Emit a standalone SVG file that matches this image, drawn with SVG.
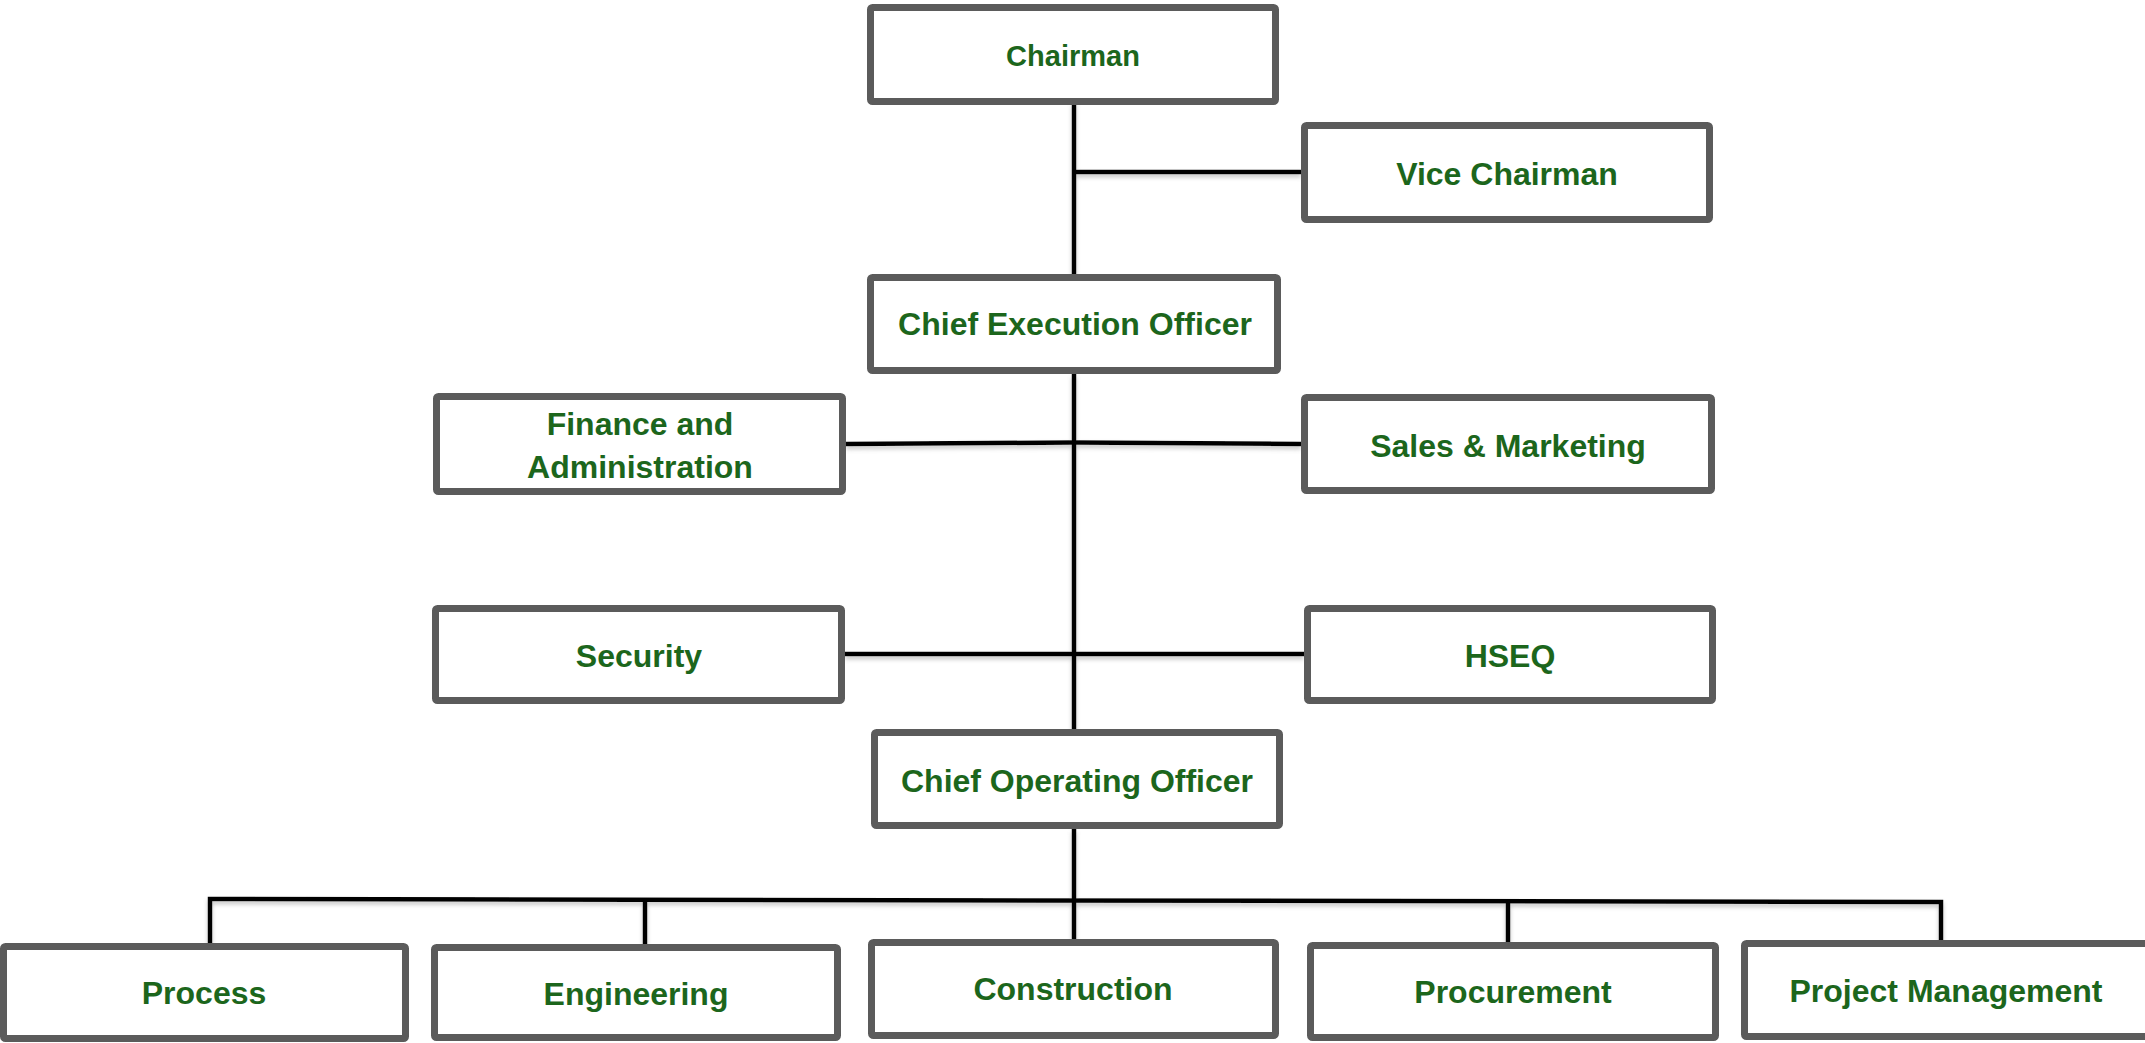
<svg xmlns="http://www.w3.org/2000/svg" width="2145" height="1043" viewBox="0 0 2145 1043">
<style>
.box{fill:#ffffff;stroke:#5b5b5b;stroke-width:7;}
.lbl{font-family:"Liberation Sans",Arial,sans-serif;font-weight:bold;font-size:32px;fill:#1c661c;text-anchor:middle;}
.con{fill:none;stroke:#000000;stroke-width:4.5;stroke-linejoin:miter;}
</style>
<defs>
<filter id="sh" x="-5%" y="-50%" width="110%" height="200%">
<feDropShadow dx="0" dy="3" stdDeviation="2" flood-color="#808080" flood-opacity="0.45"/>
</filter>
</defs>
<rect width="2145" height="1043" fill="#ffffff"/>
<g id="connectors" filter="url(#sh)">
<path class="con" d="M1074,102 V277"/>
<path class="con" d="M1074,172 H1301"/>
<path class="con" d="M1074,374 V729"/>
<path class="con" d="M846,444 L1074,442.5 L1301,444"/>
<path class="con" d="M845,654 H1304"/>
<path class="con" d="M1074,829 V939"/>
<path class="con" d="M210,943 V899 L1941,902 V940"/>
<path class="con" d="M645,944 V901"/>
<path class="con" d="M1508,942 V901"/>
</g>
<g id="chairman"><rect class="box" x="870.5" y="7.5" width="405" height="94" rx="2"/><text class="lbl" x="1073" y="66" style="font-size:29px">Chairman</text></g>
<g id="vice-chairman"><rect class="box" x="1304.5" y="125.5" width="405" height="94" rx="2"/><text class="lbl" x="1507" y="185">Vice Chairman</text></g>
<g id="ceo"><rect class="box" x="870.5" y="277.5" width="407" height="93" rx="2"/><text class="lbl" x="1075" y="335">Chief Execution Officer</text></g>
<g id="finance"><rect class="box" x="436.5" y="396.5" width="406" height="95" rx="2"/><text class="lbl" x="640" y="435">Finance and</text><text class="lbl" x="640" y="478">Administration</text></g>
<g id="sales"><rect class="box" x="1304.5" y="397.5" width="407" height="93" rx="2"/><text class="lbl" x="1508" y="457">Sales &amp; Marketing</text></g>
<g id="security"><rect class="box" x="435.5" y="608.5" width="406" height="92" rx="2"/><text class="lbl" x="639" y="667">Security</text></g>
<g id="hseq"><rect class="box" x="1307.5" y="608.5" width="405" height="92" rx="2"/><text class="lbl" x="1510" y="667">HSEQ</text></g>
<g id="coo"><rect class="box" x="874.5" y="732.5" width="405" height="93" rx="2"/><text class="lbl" x="1077" y="792">Chief Operating Officer</text></g>
<g id="process"><rect class="box" x="3.5" y="946.5" width="402" height="92" rx="2"/><text class="lbl" x="204" y="1004">Process</text></g>
<g id="engineering"><rect class="box" x="434.5" y="947.5" width="403" height="90" rx="2"/><text class="lbl" x="636" y="1005">Engineering</text></g>
<g id="construction"><rect class="box" x="871.5" y="942.5" width="404" height="93" rx="2"/><text class="lbl" x="1073" y="1000">Construction</text></g>
<g id="procurement"><rect class="box" x="1310.5" y="945.5" width="405" height="92" rx="2"/><text class="lbl" x="1513" y="1003">Procurement</text></g>
<g id="project-management"><rect class="box" x="1744.5" y="943.5" width="410" height="93" rx="2"/><text class="lbl" x="1946" y="1002">Project Management</text></g>
</svg>
